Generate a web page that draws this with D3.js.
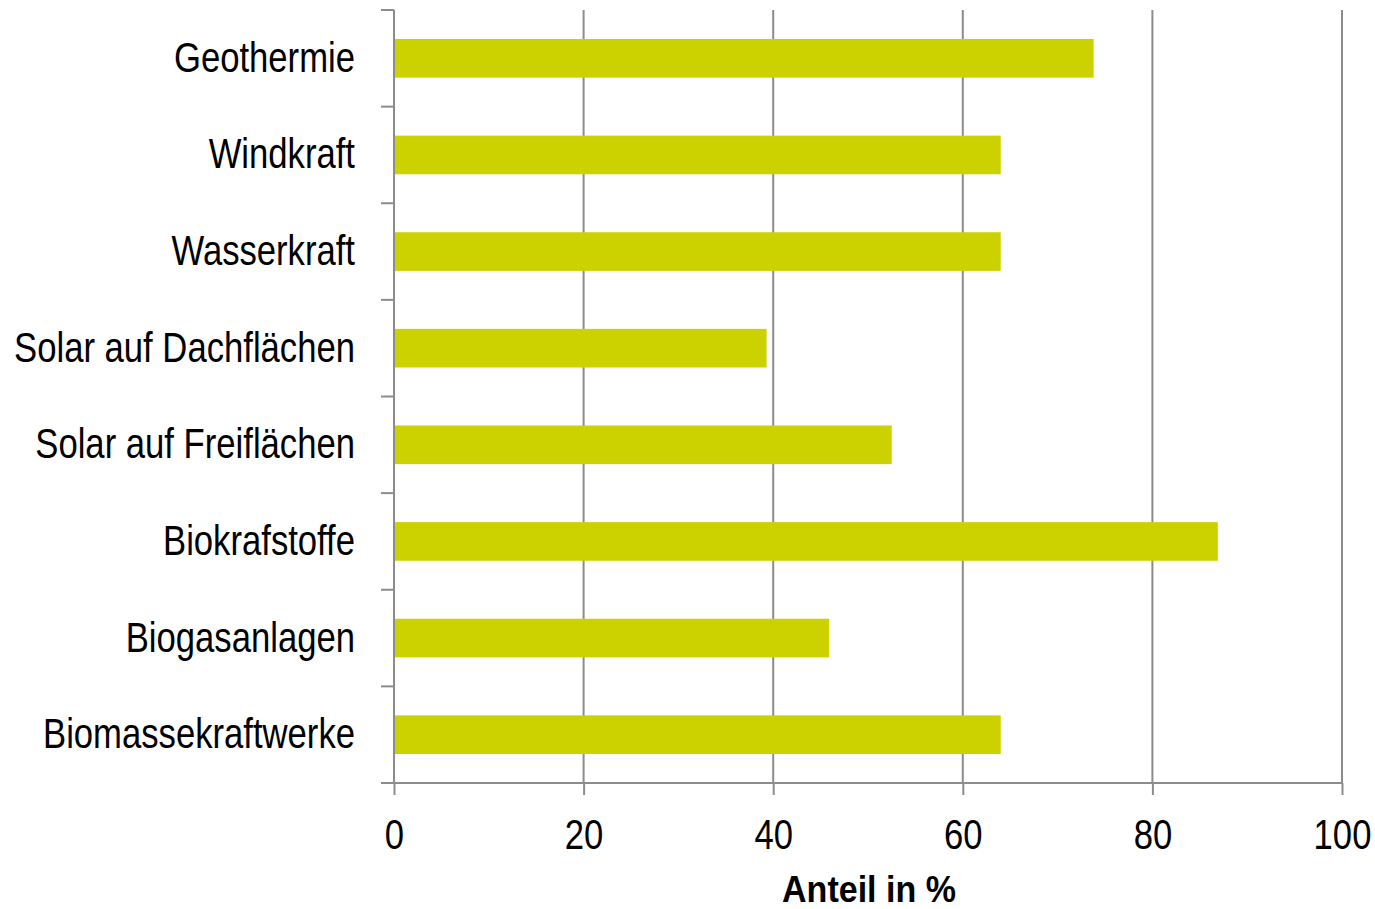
<!DOCTYPE html>
<html>
<head>
<meta charset="utf-8">
<script src="https://cdn.jsdelivr.net/npm/d3@7"></script>
<style>
  html, body { margin: 0; padding: 0; background: #fff; }
  svg text { font-family: "Liberation Sans Narrow", "Arial Narrow", "Liberation Sans", Arial, sans-serif; fill: #000; }
</style>
</head>
<body>
<svg id="chart" width="1375" height="909"></svg>
<script>
// Anteil je Technologie (in %)
const categories = ["Geothermie", "Windkraft", "Wasserkraft", "Solar auf Dachflächen",
  "Solar auf Freiflächen", "Biokrafstoffe", "Biogasanlagen", "Biomassekraftwerke"];
const values = [73.8, 64, 64, 39.3, 52.5, 86.9, 45.9, 64];
const xTicks = [0, 20, 40, 60, 80, 100];
const xTitle = "Anteil in %";

const svg = d3.select("#chart");
const plotLeft = 394, plotRight = 1342, plotTop = 10, plotBottom = 783;
const axisColor = "#8c8c8c";
const barColor = "#ccd200";
// condensed look for the regular sans font
const squeeze = 0.825;

const x = d3.scaleLinear().domain([0, 100]).range([plotLeft, plotRight]);
const y = d3.scaleBand().domain(categories).range([plotTop, plotBottom]).paddingInner(0.6).paddingOuter(0.3);
const yb = d3.scaleBand().domain(categories).range([plotTop, plotBottom]);

// vertical grid lines
svg.append("g").selectAll("line").data(xTicks.filter(d => d > 0)).join("line")
  .attr("x1", d => x(d)).attr("x2", d => x(d))
  .attr("y1", plotTop).attr("y2", plotBottom)
  .attr("stroke", axisColor).attr("stroke-width", 2);

// bars
svg.append("g").selectAll("rect").data(categories).join("rect")
  .attr("x", x(0) + 1)
  .attr("y", d => y(d))
  .attr("width", (d, i) => x(values[i]) - x(0) - 1)
  .attr("height", y.bandwidth())
  .attr("fill", barColor);

// y axis line and category boundary ticks
svg.append("line").attr("x1", plotLeft).attr("x2", plotLeft).attr("y1", plotTop).attr("y2", plotBottom)
  .attr("stroke", axisColor).attr("stroke-width", 2);
const bounds = categories.map(d => yb(d)).concat([plotBottom]);
svg.append("g").selectAll("line").data(bounds).join("line")
  .attr("x1", plotLeft - 13).attr("x2", plotLeft)
  .attr("y1", d => d).attr("y2", d => d)
  .attr("stroke", axisColor).attr("stroke-width", 2);

// x axis
const xAxis = svg.append("g").attr("transform", `translate(0,${plotBottom})`)
  .call(d3.axisBottom(x).tickValues(xTicks).tickSize(12).tickPadding(0).tickFormat(d3.format("d")));
xAxis.select(".domain").attr("stroke", axisColor).attr("stroke-width", 2)
  .attr("d", `M${plotLeft - 13},0H${plotRight}`);
xAxis.selectAll(".tick line").attr("stroke", axisColor).attr("stroke-width", 2);
xAxis.selectAll(".tick text")
  .attr("y", null).attr("dy", null)
  .attr("transform", `translate(0,66) scale(${squeeze},1)`)
  .attr("font-size", 42)
  .style("font-family", null)
  .attr("fill", "#000");

// category labels
svg.append("g").selectAll("text").data(categories).join("text")
  .attr("transform", d => `translate(355,${yb(d) + yb.bandwidth() / 2}) scale(${squeeze},1)`)
  .attr("dy", "0.32em")
  .attr("text-anchor", "end")
  .attr("font-size", 42)
  .text(d => d);

// axis title
svg.append("text")
  .attr("transform", `translate(${(plotLeft + plotRight) / 2 + 1},902) scale(0.92,1)`)
  .attr("text-anchor", "middle")
  .attr("font-size", 37)
  .attr("font-weight", "bold")
  .text(xTitle);
</script>
</body>
</html>
